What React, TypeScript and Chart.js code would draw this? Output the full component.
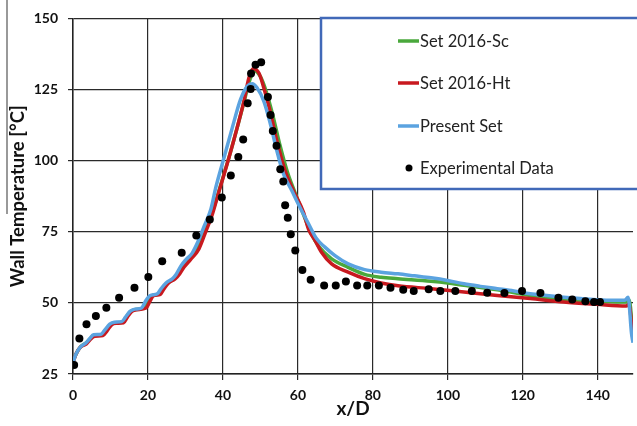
import React, { useEffect, useRef } from "react";
import { Chart, registerables } from "chart.js";

Chart.register(...registerables);

// ---- Data ----
const seriesLabels = ["Set 2016-Sc", "Set 2016-Ht", "Present Set", "Experimental Data"];

const set2016Sc: [number, number][] = [
  [0, 29.5], [0.8, 32], [2, 34.5], [3.5, 36], [4.5, 37.3], [5.6, 38.6], [7.7, 38.8], [8.7, 40.3],
  [10, 42.4], [11.2, 43], [13.2, 43.2], [14.2, 45], [15.4, 47], [16.7, 47.7], [18.8, 48.2],
  [19.8, 50.5], [21, 52.5], [23, 53.1], [24, 55], [25.2, 57], [27, 58.5], [28, 60.2], [29.2, 63],
  [30.6, 65.5], [32.5, 68], [34.3, 72.5], [36, 78], [37.7, 84], [39.3, 91], [41.8, 102],
  [44, 112.5], [45.8, 121.5], [47.2, 128.5], [48.5, 131.5], [50, 129.5], [51.5, 124.5],
  [53.3, 116], [55.2, 105.5], [57.2, 96], [59.3, 88.5], [61.8, 80], [63.5, 74.5], [65.5, 70],
  [69, 65.5], [73.4, 62.5], [77.8, 60], [82.2, 59], [86.7, 58.5], [95.5, 57.6], [99.9, 57],
  [104.3, 56.2], [113.2, 54.6], [122, 52.6], [130.9, 51.1], [139.7, 50.6], [147.6, 50.3],
  [148.4, 51], [149.4, 37.5],
];

const set2016Ht: [number, number][] = [
  [0, 29], [0.8, 32], [2, 34.5], [3.5, 35.5], [4.5, 37], [5.8, 38.3], [8, 38.5], [9, 40],
  [10.3, 42.3], [11.5, 42.8], [13.5, 43], [14.5, 45], [15.7, 47], [17, 47.6], [19.5, 48.2],
  [20.5, 50.5], [21.5, 52.5], [23.3, 53], [24.3, 55], [25.5, 57], [27.3, 58.5], [28.5, 60.3],
  [29.6, 62.5], [31.4, 65.3], [33.6, 69], [35.4, 75], [37.1, 80.8], [39, 89.4], [41.6, 101],
  [43.8, 111.6], [45.6, 120.9], [46.9, 129], [48, 132.3], [49.6, 130.8], [50.9, 125.6],
  [52.7, 116.8], [54.4, 106.9], [56.6, 96.4], [58.8, 89.4], [61.5, 81.8], [62.8, 76],
  [64.6, 71.9], [66.3, 67.8], [69, 63.7], [73.4, 60.8], [77.8, 58.5], [82.2, 57], [86.7, 56],
  [95.5, 55], [104.3, 53.8], [113.2, 52.6], [122, 51.5], [130.9, 50.3], [139.7, 49.5],
  [147.6, 48.9], [148.3, 49.5], [149.4, 37],
];

const presentSet: [number, number][] = [
  [0, 29], [0.8, 32], [2, 34.5], [3.5, 36], [4.5, 37.5], [5.5, 38.8], [7.5, 39], [8.5, 40.5],
  [9.8, 42.5], [11, 43.2], [13, 43.4], [14, 45], [15.2, 47], [16.5, 47.8], [18.3, 48.2],
  [19.3, 50.5], [20.5, 52.5], [22.5, 53.2], [23.5, 55], [24.8, 57], [26.5, 58.5], [27.5, 60],
  [28.8, 63], [30.2, 65.3], [31.8, 67.5], [33.5, 72], [35, 77], [36.8, 83], [38.1, 90.6],
  [40.3, 101.1], [42.5, 111.6], [44.7, 121.5], [46.5, 126.2], [47.8, 127], [49.1, 125.6],
  [50.9, 120.9], [52.7, 112.7], [54.4, 103.4], [56.2, 95.2], [58.4, 89.4], [60.2, 84.5],
  [62.8, 77.9], [65, 72.5], [67.2, 69.6], [69.9, 66.6], [73.4, 63.7], [77.8, 61.7],
  [82.2, 60.8], [86.7, 60.2], [91.1, 59.5], [95.5, 58.8], [99.9, 57.9], [104.3, 56.7],
  [108.7, 55.8], [113.2, 55], [117.6, 54.2], [122, 53.2], [126.4, 52.6], [130.9, 52],
  [135.3, 51.5], [139.7, 51.1], [144.1, 50.9], [147.2, 50.9], [148.1, 52], [149, 39.3],
  [149.4, 36],
];

const experimental: [number, number][] = [
  [0.3, 28.2], [1.7, 37.5], [3.6, 42.5], [6.1, 45.4], [8.9, 48.3], [12.3, 51.8], [16.4, 55.3],
  [20.1, 59.1], [23.8, 64.6], [29.0, 67.6], [32.9, 73.7], [36.5, 79.3], [39.7, 87],
  [42.1, 94.8], [44.1, 101.3], [45.4, 107.4], [46.6, 120.2], [47.4, 125.2], [47.5, 130.6],
  [48.7, 133.7], [50.2, 134.6], [52.0, 122.4], [52.7, 116.0], [53.3, 110.4], [54.3, 105.2],
  [55.3, 97], [56.1, 92.7], [56.6, 84.3], [57.3, 79.9], [58.1, 74.1], [59.3, 68.4],
  [61.2, 61.6], [63.4, 58.1], [67.0, 56.1], [70.1, 56.1], [72.8, 57.5], [75.8, 56.1],
  [78.5, 56.1], [81.6, 56.1], [84.7, 55.3], [88.1, 54.6], [90.9, 54.2], [94.9, 54.8],
  [98.0, 54.2], [102.0, 54.2], [106.4, 54.2], [110.5, 53.6], [115.1, 53.5], [119.8, 54.2],
  [124.7, 53.5], [129.5, 51.8], [133.2, 51.2], [136.7, 50.6], [139.0, 50.3], [140.6, 50.3],
];

const xTicks = [0, 20, 40, 60, 80, 100, 120, 140];
const yTicks = [25, 50, 75, 100, 125, 150];

const colors = ["#4aa83c", "#c8191f", "#5ba3e0", "#000000"];

const toPts = (arr: [number, number][]) => arr.map(([x, y]) => ({ x, y }));

const FONT = "Lato, 'Open Sans', sans-serif";

const legendPlugin = {
  id: "boxLegend",
  afterDraw(chart: any) {
    const ctx = chart.ctx;
    ctx.save();
    // decorative overline near y-title
    ctx.strokeStyle = "#555";
    ctx.lineWidth = 1.2;
    ctx.beginPath();
    ctx.moveTo(7, 0);
    ctx.lineTo(7, 214);
    ctx.stroke();

    // legend box
    const bx = 321, by = 18, bw = 330, bh = 171;
    ctx.fillStyle = "#ffffff";
    ctx.fillRect(bx, by, bw, bh);
    ctx.strokeStyle = "#4169b8";
    ctx.lineWidth = 2.5;
    ctx.strokeRect(bx, by, bw, bh);

    const rows = [41, 83, 126, 168];
    ctx.font = `16.5px ${FONT}`;
    ctx.textBaseline = "middle";
    ctx.textAlign = "left";
    chart.data.datasets.forEach((ds: any, i: number) => {
      const y = rows[i];
      if (ds.showLine === false) {
        ctx.fillStyle = ds.backgroundColor;
        ctx.beginPath();
        ctx.arc(409, y, 3.5, 0, Math.PI * 2);
        ctx.fill();
      } else {
        ctx.strokeStyle = ds.borderColor;
        ctx.lineWidth = 3.5;
        ctx.beginPath();
        ctx.moveTo(398, y);
        ctx.lineTo(419, y);
        ctx.stroke();
      }
      ctx.fillStyle = "#222";
      ctx.fillText(ds.label, 420, y + 1);
    });
    ctx.restore();
  },
};

export default function App() {
  const ref = useRef<HTMLCanvasElement | null>(null);
  useEffect(() => {
    if (!ref.current) return;
    const lineDs = (i: number, data: [number, number][], order: number) => ({
      type: "line" as const,
      label: seriesLabels[i],
      data: toPts(data),
      borderColor: colors[i],
      backgroundColor: colors[i],
      borderWidth: 3.5,
      pointRadius: 0,
      cubicInterpolationMode: "monotone" as const,
      fill: false,
      order,
    });
    const chart = new Chart(ref.current, {
      type: "line",
      data: {
        datasets: [
          lineDs(0, set2016Sc, 3),
          lineDs(1, set2016Ht, 2),
          lineDs(2, presentSet, 1),
          {
            type: "scatter" as const,
            label: seriesLabels[3],
            data: toPts(experimental),
            showLine: false,
            pointRadius: 4,
            pointHoverRadius: 4,
            borderWidth: 0,
            backgroundColor: colors[3],
            borderColor: colors[3],
            order: 0,
          } as any,
        ],
      },
      options: {
        animation: false,
        responsive: false,
        devicePixelRatio: 1,
        layout: { padding: { top: 17, left: 0, right: 0, bottom: 0 } },
        plugins: { legend: { display: false }, tooltip: { enabled: false } },
        scales: {
          x: {
            type: "linear",
            min: 0,
            max: 149.4,
            afterBuildTicks: (s: any) => {
              s.ticks = xTicks.map((v) => ({ value: v }));
            },
            afterFit: (s: any) => {
              s.height = 52;
              s.paddingLeft = 0;
              s.paddingRight = 0;
            },
            ticks: {
              font: { family: FONT, size: 14, weight: "bold" },
              color: "#111",
              padding: 7,
              maxRotation: 0,
              autoSkip: false,
            },
            grid: { color: "#2a2a2a", lineWidth: 1.2, tickLength: 6 },
            border: { color: "#222", width: 1.5 },
            title: {
              display: true,
              text: "x/D",
              font: { family: FONT, size: 19, weight: "bold" },
              color: "#111",
              padding: { top: 0, bottom: 6 },
            },
          },
          y: {
            type: "linear",
            min: 25,
            max: 150,
            afterBuildTicks: (s: any) => {
              s.ticks = yTicks.map((v) => ({ value: v }));
            },
            afterFit: (s: any) => {
              s.width = 73;
            },
            ticks: {
              font: { family: FONT, size: 14, weight: "bold" },
              color: "#111",
              padding: 10,
            },
            grid: { color: "#2a2a2a", lineWidth: 1.2, tickLength: 5 },
            border: { color: "#222", width: 1.5 },
            title: {
              display: true,
              text: "Wall Temperature [°C]",
              font: { family: FONT, size: 18.5, weight: "bold" },
              color: "#111",
              padding: { top: 7, bottom: 0 },
            },
          },
        },
      },
      plugins: [legendPlugin],
    } as any);
    return () => chart.destroy();
  }, []);

  return (
    <div style={{ position: "fixed", left: 0, top: 0, width: 637, height: 426, background: "#fff" }}>
      <canvas ref={ref} width={637} height={426} style={{ width: 637, height: 426 }} />
    </div>
  );
}
